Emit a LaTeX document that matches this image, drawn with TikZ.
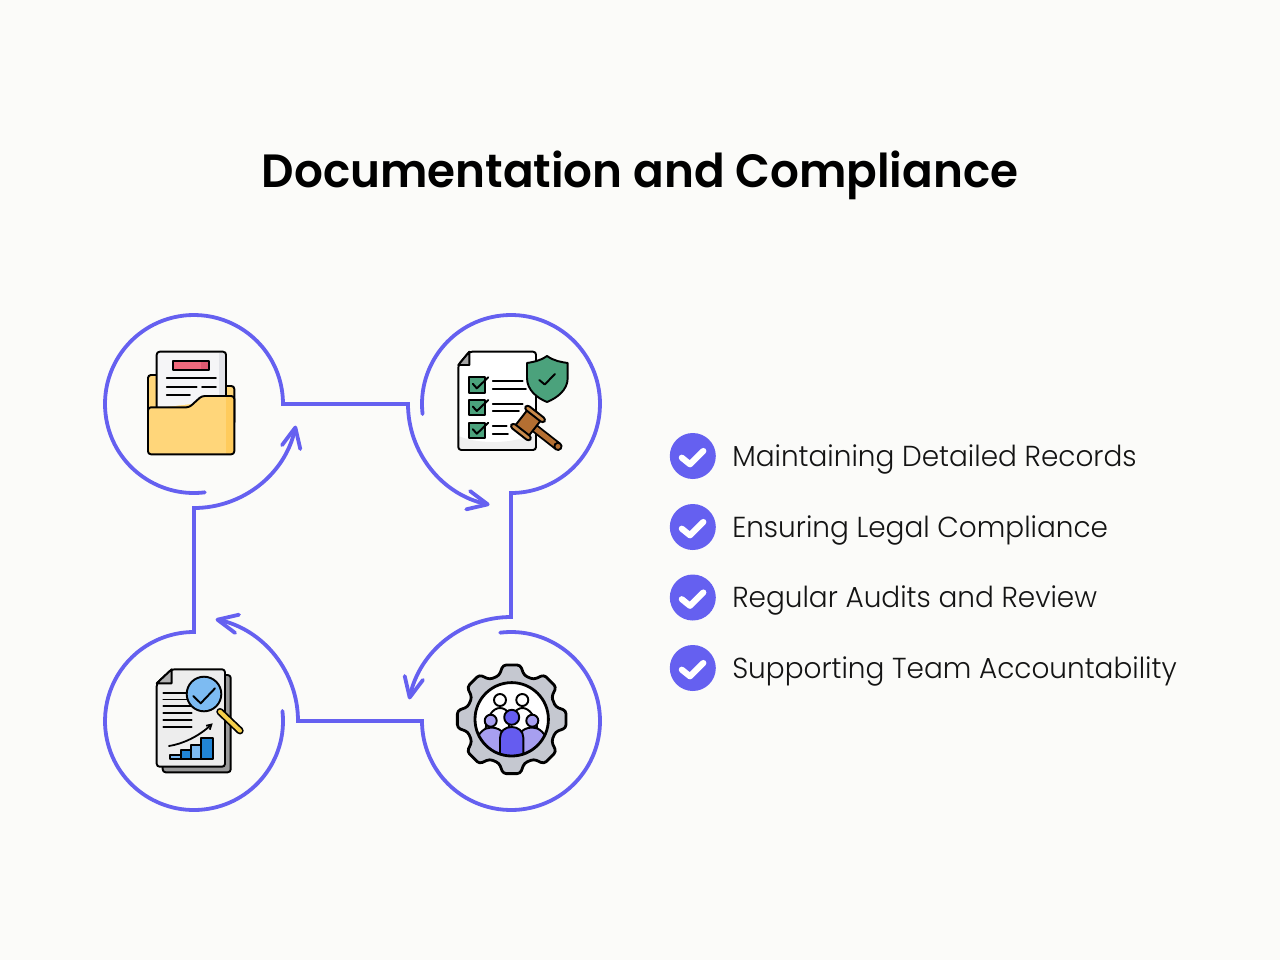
\documentclass[tikz,border=0pt]{standalone}
\usepackage{fontspec}
\usetikzlibrary{arrows.meta,calc}
\newfontfamily\titlef[FakeStretch=0.97]{Poppins SemiBold}
\newfontfamily\bodyf[FakeStretch=0.965]{Poppins Light}
\definecolor{bgc}{HTML}{FBFBF9}
\definecolor{flowc}{HTML}{6560F0}
\definecolor{foldy}{HTML}{FFD67A}
\definecolor{foldd}{HTML}{FFCB5C}
\definecolor{papc}{HTML}{F5F5F7}
\definecolor{paps}{HTML}{E2E3E8}
\definecolor{redc}{HTML}{F0697C}
\definecolor{redd}{HTML}{DE5A70}
\definecolor{greenc}{HTML}{4BA27C}
\definecolor{brownc}{HTML}{B46F32}
\definecolor{brownl}{HTML}{C98A4B}
\definecolor{bluel}{HTML}{7DBBF2}
\definecolor{blued}{HTML}{2185D6}
\definecolor{yelc}{HTML}{F5CF4A}
\definecolor{gearc}{HTML}{C5C8D0}
\definecolor{purl}{HTML}{A79FF0}
\definecolor{purd}{HTML}{655CF0}
\tikzset{
 flow/.style={draw=flowc,line width=2.85pt,line cap=round,line join=miter},
 tipped/.style={flow,-{Straight Barb[length=15pt,width=14pt,round,line width=2.85pt]}},
 ico/.style={draw=black,line width=1.45pt,line join=round,line cap=round},
 rc/.style={rounded corners=2.2pt},
 ln/.style={draw=black,line width=1.35pt,line cap=round},
 itemtext/.style={anchor=base west,inner sep=0pt,font=\bodyf\fontsize{21.7}{26}\selectfont,text=black!92},
 titletext/.style={anchor=base,inner sep=0pt,font=\titlef\fontsize{35}{42}\selectfont,text=black},
 bullet/.style={circle,fill=flowc,minimum size=34.5pt,inner sep=0pt},
 tick/.style={draw=white,line width=4.6pt,line cap=round,line join=round},
}
\begin{document}
\begin{tikzpicture}[x=0.75pt,y=-0.75pt]
\useasboundingbox[fill=bgc] (0,0) rectangle (1280,960);
\node[titletext] (title) at (640,187.5) {Documentation and Compliance};

% flow
\coordinate (c1) at (194,404);
\coordinate (c2) at (511,404);
\coordinate (c3) at (511,721);
\coordinate (c4) at (194,721);
\coordinate (s1) at ($(c1)+(83:89)$);
\coordinate (k1) at (408,404);
\coordinate (s2) at ($(c2)+(173.5:89)$);
\coordinate (k2) at (511,617);
\coordinate (s3) at ($(c3)+(263:89)$);
\coordinate (k3) at (298,721);
\coordinate (s4) at ($(c4)+(353.5:89)$);
\coordinate (k4) at (194,508);
\draw[tipped] (s1) arc[start angle=83,end angle=360,radius=89] -- (k1) arc[start angle=180,end angle=102,radius=103];
\draw[tipped] (s2) arc[start angle=173.5,end angle=450,radius=89] -- (k2) arc[start angle=270,end angle=192,radius=104];
\draw[tipped] (s3) arc[start angle=263,end angle=540,radius=89] -- (k3) arc[start angle=360,end angle=282,radius=104];
\draw[tipped] (s4) arc[start angle=353.5,end angle=630,radius=89] -- (k4) arc[start angle=90,end angle=12,radius=104];

% folder
\draw[ico,rc,fill=foldy] (148,425) -- (148,375) -- (160,375) -- (160,386) -- (234.3,386) -- (234.3,425) -- cycle;
\fill[papc] (156.7,408) -- (156.7,352) -- (226,352) -- (226,400) -- cycle;
\fill[paps] (219,353) rectangle (226,397);
\draw[ico,rc] (156.7,408) -- (156.7,351.7) -- (226,351.7) -- (226,398);
\fill[redc] (173.3,360.7) rectangle (209.3,370);
\fill[redd] (201,360.7) rectangle (209.3,370);
\draw[ico] (173.3,360.7) rectangle (209.3,370);
\draw[ln] (166.7,378.3) -- (216,378.3);
\draw[ln] (166.7,387) -- (196.7,387);
\draw[ln] (202,387) -- (216,387);
\draw[ln] (166.7,395) -- (190,395);
\fill[foldy,rc] (148,407.3) -- (189.3,407.3) -- (201.7,396) -- (234.3,396) -- (234.3,454.3) -- (148,454.3) -- cycle;
\fill[foldd] (226,397) rectangle (233.5,453.5);
\draw[ico,rc] (148,407.3) -- (189.3,407.3) -- (201.7,396) -- (234.3,396) -- (234.3,454.3) -- (148,454.3) -- cycle;

% checklist
\fill[white] (458.3,365) -- (469.3,351.7) -- (536,351.7) -- (536,450) -- (458.3,450) -- cycle;
\fill[black!6] (458.3,436) .. controls (480,445) and (515,444) .. (536,433) -- (536,450) -- (458.3,450) -- cycle;
\draw[ico,rc] (458.3,365) -- (469.3,351.7) -- (536,351.7) -- (536,450) -- (458.3,450) -- cycle;
\draw[ico,fill=black!35] (458.3,365) -- (469.3,351.7) -- (469.3,365) -- cycle;
\foreach \yy in {377.3,400,422.7}{
 \begin{scope}[shift={(469.3,\yy)}]
 \draw[ico,fill=greenc] (0,0) rectangle (15.7,15.4);
 \draw[ico] (3.5,6.5) -- (7.5,11) -- (19,0);
 \end{scope}
}
\draw[ln] (492.7,381) -- (522.7,381);
\draw[ln] (492.7,388.7) -- (526,388.7);
\draw[ln] (492.7,403.7) -- (522.7,403.7);
\draw[ln] (492.7,411.3) -- (519,411.3);
\draw[ln] (492.7,426.3) -- (506.7,426.3);
\draw[ln] (492.7,434.3) -- (508,434.3);
\draw[ico,fill=greenc] (547,356) .. controls (540,361) and (533,362) .. (527,363) -- (527,378) .. controls (527,390) and (537,398) .. (547,402) .. controls (557,398) and (567.7,390) .. (567.7,378) -- (567.7,363) .. controls (561,362) and (554,361) .. (547,356) -- cycle;
\draw[ico] (539.3,380) -- (544.7,384.5) -- (555,374);
\begin{scope}[shift={(528,423)},rotate=-38]
 \draw[draw=black,line width=6.6pt,line cap=round] (9,0) -- (37,0);
 \draw[draw=brownc,line width=3.8pt,line cap=round] (9,0) -- (37,0);
 \draw[draw=black,fill=brownc,line width=1.4pt] (38,0) circle[radius=3.6];
 \draw[ico,fill=brownc] (-8.5,-10) rectangle (8.5,10);
 \draw[ico,fill=brownl,rc] (-12,-14) rectangle (12,-9);
 \draw[ico,fill=brownl,rc] (-12,9) rectangle (12,14);
\end{scope}

% report
\draw[ico,rc,fill=black!40] (162.7,690) -- (162.7,772.3) -- (230.7,772.3) -- (230.7,675) -- (220,675) -- cycle;
\draw[ico,rc,fill=black!7] (156.7,683.3) -- (171.7,669.3) -- (225,669.3) -- (225,766.7) -- (156.7,766.7) -- cycle;
\draw[ico,fill=black!30] (156.7,683.3) -- (171.7,669.3) -- (171.7,683.3) -- cycle;
\foreach \yy in {692.7,699.5,706.3,713,719.7,726.7}{
 \draw[ln] (163.3,\yy) -- (191.7,\yy);
}
\draw[draw=black,line width=5.6pt,line cap=round] (220,711.7) -- (240,730.7);
\draw[draw=yelc,line width=3pt,line cap=round] (220,711.7) -- (240,730.7);
\draw[ico,fill=bluel] (204,694) circle[radius=17.3];
\draw[ico] (193.3,696) -- (200.7,703.3) -- (215,688.3);
\draw[ln,-{Straight Barb[length=3.5pt,width=4pt]}] (169,746) .. controls (182,744) and (198,737) .. (212.7,723.3);
\draw[ico,fill=bluel] (170,755) rectangle (180.7,759);
\draw[ico,fill=blued] (180.7,750) rectangle (191.3,759);
\draw[ico,fill=bluel] (191.3,745) rectangle (201.3,759);
\draw[ico,fill=blued] (201.3,738.3) rectangle (213,759);

% gear
\begin{scope}[shift={(511.7,719.3)}]
\draw[draw=black,line width=2.1pt,line join=round,rounded corners=2.4pt,fill=gearc] (-22.5:45.5)
 \foreach \a [evaluate=\a as \p using \a-16,evaluate=\a as \q using \a-9,evaluate=\a as \r using \a+9,evaluate=\a as \t using \a+16] in {0,45,...,315} { -- (\p:45.5) -- (\q:55) -- (\r:55) -- (\t:45.5) } -- cycle;
\fill[white] (0,0) circle[radius=36.7];
\end{scope}
\begin{scope}
\clip (511.7,719.3) circle[radius=36.7];
\draw[ico,fill=white] (485,735) .. controls (486,716) and (493,708) .. (500,708) .. controls (507,708) and (514,716) .. (515,735) -- cycle;
\draw[ico,fill=white] (508,735) .. controls (509,716) and (516,708) .. (522.3,708) .. controls (529,708) and (537,716) .. (538,735) -- cycle;
\draw[ico,fill=purl] (474,760) -- (474,745) .. controls (478,733) and (484,727.5) .. (491,727.5) .. controls (497,727.5) and (501,730) .. (503,733) -- (503,760) -- cycle;
\draw[ico,fill=purl] (549.4,760) -- (549.4,745) .. controls (545.4,733) and (539.4,727.5) .. (532.4,727.5) .. controls (526.4,727.5) and (522.4,730) .. (520.4,733) -- (520.4,760) -- cycle;
\draw[ico,fill=purd] (500,760) -- (500,738) .. controls (500,731) and (505,727) .. (511.7,727) .. controls (518,727) and (523.4,731) .. (523.4,738) -- (523.4,760) -- cycle;
\end{scope}
\draw[ico,fill=white] (500,700) circle[radius=6];
\draw[ico,fill=white] (522.3,700) circle[radius=6];
\draw[ico,fill=purl] (490.7,720.7) circle[radius=6];
\draw[ico,fill=purl] (532.3,720.7) circle[radius=6];
\draw[ico,fill=purd] (511.7,717.3) circle[radius=7.5];
\draw[draw=black,line width=2.1pt] (511.7,719.3) circle[radius=36.7];

% list
\foreach \yy/\nm/\txt in {456/a/Maintaining Detailed Records,527/b/Ensuring Legal Compliance,597.5/c/Regular Audits and Review,668/d/Supporting Team Accountability}{
 \node[bullet] (bul\nm) at (692.8,\yy) {};
 \draw[tick] ($(bul\nm.center)+(-11,1.7)$) -- ($(bul\nm.center)+(-2.8,8.3)$) -- ($(bul\nm.center)+(10.5,-5)$);
 \node[itemtext] (item\nm) at (732,\yy+10) {\txt};
}
\end{tikzpicture}
\end{document}
